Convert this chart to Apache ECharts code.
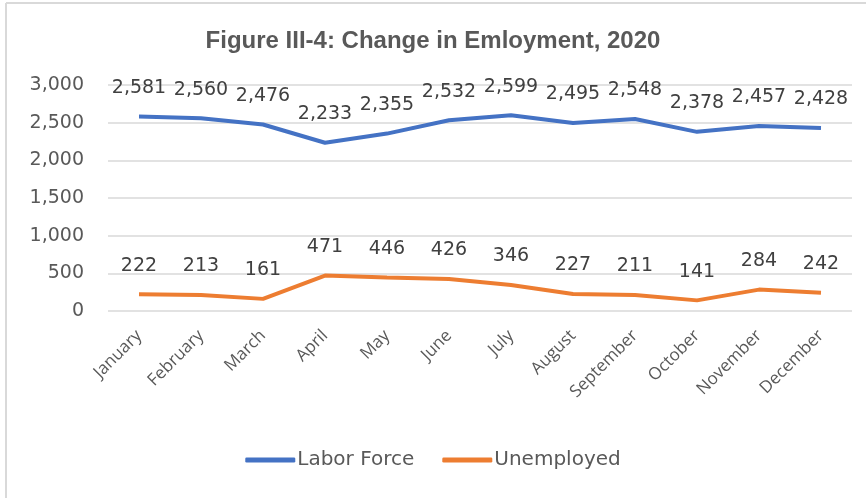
<!DOCTYPE html>
<html><head><meta charset="utf-8">
<script src="https://cdn.jsdelivr.net/npm/echarts@6/dist/echarts.min.js"></script>
<style>html,body{margin:0;padding:0;background:#fff}#c{width:866px;height:498px}</style>
</head><body><div id="c"></div>
<script>
var titleText = 'Figure III-4: Change in Emloyment, 2020';
var months = ['January','February','March','April','May','June','July','August','September','October','November','December'];
var laborForce = [2581,2560,2476,2233,2355,2532,2599,2495,2548,2378,2457,2428];
var unemployed = [222,213,161,471,446,426,346,227,211,141,284,242];
var seriesNames = ['Labor Force','Unemployed'];

var chart = echarts.init(document.getElementById('c'));
var labelStyle = {show:true, position:'top', distance:19, color:'#404040', fontFamily:'DejaVu Sans', fontSize:19,
  formatter:function(p){return p.value.toLocaleString('en-US');}};
chart.setOption({
  animation:false,
  title:{text:titleText, left:'center', top:24, textStyle:{fontFamily:'Liberation Sans', fontWeight:'bold', fontSize:24, color:'#595959'}},
  graphic:[
    {type:'line', shape:{x1:6,y1:3,x2:6,y2:498}, style:{stroke:'#d9d9d9', lineWidth:2}},
    {type:'line', shape:{x1:6,y1:3,x2:866,y2:3}, style:{stroke:'#d9d9d9', lineWidth:2}}
  ],
  grid:{left:108, right:14, top:85, bottom:187},
  xAxis:{type:'category', data:months, boundaryGap:true,
    axisLine:{show:false}, axisTick:{show:false},
    axisLabel:{rotate:45, interval:0, margin:22, color:'#595959', fontFamily:'Open Sans', fontSize:17}},
  yAxis:{type:'value', min:0, max:3000, interval:500,
    axisLine:{show:false}, axisTick:{show:false},
    splitLine:{lineStyle:{color:'#d9d9d9', width:1.5}},
    axisLabel:{margin:24, color:'#595959', fontFamily:'DejaVu Sans', fontSize:19,
      formatter:function(v){return v.toLocaleString('en-US');}}},
  legend:{bottom:23, left:'center', itemWidth:50, itemHeight:5, itemGap:28, icon:'roundRect',
    textStyle:{color:'#595959', fontFamily:'DejaVu Sans', fontSize:20, padding:[0,0,0,-3]},
    data:seriesNames},
  series:[
    {name:seriesNames[0], type:'line', data:laborForce, showSymbol:true, symbol:'circle', symbolSize:0.1,
     lineStyle:{width:4, color:'#4472C4'}, itemStyle:{color:'#4472C4'}, label:labelStyle},
    {name:seriesNames[1], type:'line', data:unemployed, showSymbol:true, symbol:'circle', symbolSize:0.1,
     lineStyle:{width:4, color:'#ED7D31'}, itemStyle:{color:'#ED7D31'}, label:labelStyle}
  ]
});
</script></body></html>
